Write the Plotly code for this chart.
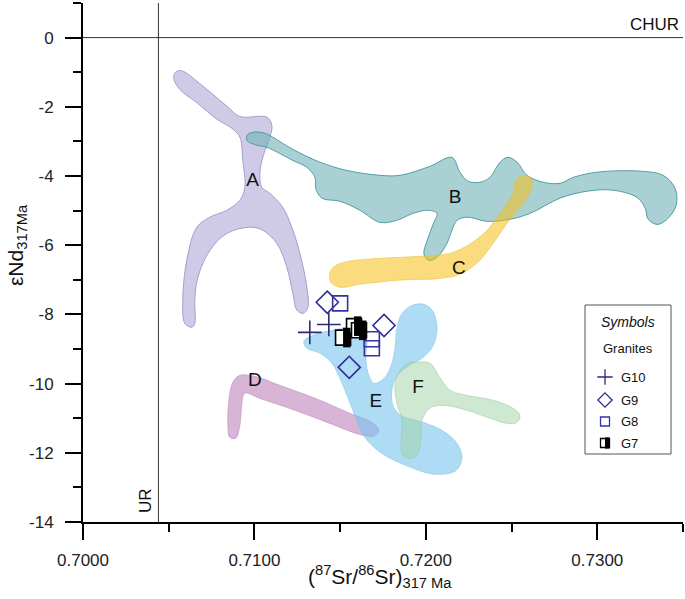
import plotly.graph_objects as go

# ---------------- data ----------------
x_ticks = [0.700, 0.710, 0.720, 0.730]
x_ticktext = ["0.7000", "0.7100", "0.7200", "0.7300"]
x_minor = [0.705, 0.715, 0.725, 0.735]
y_ticks = [-14, -12, -10, -8, -6, -4, -2, 0]
y_ticktext = ["-14", "-12", "-10", "-8", "-6", "-4", "-2", "0"]
y_minor = [-13, -11, -9, -7, -5, -3, -1, 1]

CHUR = 0.0
UR = 0.7044

# field outlines (Sr ratio, eNd)
A_x = [0.70535, 0.70570, 0.70699, 0.70839, 0.70915, 0.71072, 0.71102, 0.71090, 0.71049, 0.71032, 0.71043, 0.71090,
       0.71166, 0.71218, 0.71265, 0.71306, 0.71312, 0.71283, 0.71248, 0.71224, 0.71189, 0.71131, 0.71049, 0.70973,
       0.70839, 0.70740, 0.70670, 0.70652, 0.70652, 0.70635, 0.70594, 0.70582, 0.70605, 0.70664, 0.70740, 0.70839,
       0.70915, 0.70944, 0.70932, 0.70915, 0.70868, 0.70781, 0.70664, 0.70565, 0.70530]
A_y = [-1.03, -0.95, -1.40, -1.98, -2.28, -2.30, -2.54, -2.88, -3.46, -3.92, -4.33, -4.50, -4.91, -5.48, -6.23,
       -7.22, -7.80, -7.97, -7.88, -7.39, -6.64, -5.95, -5.57, -5.48, -5.66, -6.15, -6.93, -7.59, -8.26, -8.37,
       -8.26, -7.59, -6.44, -5.48, -5.19, -4.99, -4.70, -4.33, -3.55, -2.88, -2.62, -2.36, -1.88, -1.50, -1.20]

B_x = [0.70961, 0.71043, 0.71224, 0.71382, 0.71539, 0.71732, 0.71849, 0.72024, 0.72152, 0.72199, 0.72246, 0.72316,
       0.72374, 0.72433, 0.72479, 0.72532, 0.72590, 0.72684, 0.72783, 0.72859, 0.72999, 0.73250, 0.73384, 0.73454,
       0.73460, 0.73407, 0.73349, 0.73297, 0.73279, 0.73232, 0.73092, 0.72940, 0.72783, 0.72608, 0.72491, 0.72357,
       0.72240, 0.72182, 0.72152, 0.72123, 0.72071, 0.72018, 0.71989, 0.72012, 0.72047, 0.72065, 0.72012, 0.71925,
       0.71831, 0.71732, 0.71615, 0.71499, 0.71393, 0.71358, 0.71353, 0.71306, 0.71224, 0.71072, 0.71014, 0.70956]
B_y = [-2.80, -2.74, -3.23, -3.60, -3.84, -3.98, -3.98, -3.72, -3.46, -3.89, -4.15, -4.18, -4.04, -3.60, -3.46,
       -3.60, -3.98, -4.18, -4.21, -4.04, -3.89, -3.86, -3.98, -4.36, -4.85, -5.25, -5.40, -5.25, -4.93, -4.62,
       -4.41, -4.44, -4.64, -5.08, -5.25, -5.31, -5.19, -5.28, -5.57, -5.95, -6.32, -6.44, -6.26, -5.80, -5.34,
       -5.08, -4.99, -5.08, -5.28, -5.34, -4.99, -4.73, -4.64, -4.36, -4.04, -3.75, -3.55, -3.17, -3.11, -2.97]

C_x = [0.72579, 0.72619, 0.72608, 0.72549, 0.72473, 0.72392, 0.72304, 0.72199, 0.72082, 0.71849, 0.71615, 0.71499,
       0.71446, 0.71440, 0.71475, 0.71545, 0.71732, 0.71966, 0.72141, 0.72246, 0.72304, 0.72357, 0.72433, 0.72508,
       0.72526]
C_y = [-3.98, -4.12, -4.47, -4.91, -5.37, -5.95, -6.49, -6.84, -6.96, -7.01, -7.13, -7.22, -7.07, -6.78, -6.58,
       -6.47, -6.38, -6.32, -6.23, -6.00, -5.80, -5.57, -5.08, -4.50, -4.12]

D_x = [0.70856, 0.70845, 0.70851, 0.70874, 0.70915, 0.71002, 0.71148, 0.71382, 0.71557, 0.71685, 0.71726, 0.71697,
       0.71615, 0.71440, 0.71236, 0.71032, 0.70944, 0.70926, 0.70915, 0.70891]
D_y = [-11.55, -11.21, -10.48, -9.96, -9.76, -9.79, -10.05, -10.48, -10.86, -11.12, -11.35, -11.52, -11.47, -11.15,
       -10.77, -10.43, -10.28, -10.63, -11.21, -11.58]

E_x = [0.71288, 0.71353, 0.71458, 0.71557, 0.71627, 0.71656, 0.71650, 0.71662, 0.71697, 0.71755, 0.71796, 0.71820,
       0.71831, 0.71861, 0.71919, 0.71989, 0.72041, 0.72065, 0.72041, 0.71977, 0.71896, 0.71831, 0.71802, 0.71808,
       0.71855, 0.71966, 0.72094, 0.72182, 0.72211, 0.72176, 0.72053, 0.71896, 0.71744, 0.71639, 0.71586, 0.71545,
       0.71499, 0.71452, 0.71382, 0.71306]
E_y = [-8.78, -8.58, -8.46, -8.37, -8.46, -8.75, -9.18, -9.67, -9.99, -9.85, -9.50, -8.98, -8.40, -7.97, -7.74,
       -7.71, -7.91, -8.40, -8.92, -9.27, -9.50, -9.79, -10.19, -10.63, -10.92, -11.09, -11.35, -11.73, -12.16,
       -12.51, -12.62, -12.39, -12.02, -11.52, -10.92, -10.40, -9.85, -9.41, -9.12, -8.98]

F_x = [0.71948, 0.72024, 0.72082, 0.72141, 0.72240, 0.72392, 0.72508, 0.72549, 0.72532, 0.72473, 0.72374, 0.72240,
       0.72100, 0.72024, 0.71977, 0.71971, 0.71954, 0.71919, 0.71866, 0.71855, 0.71861, 0.71831, 0.71820, 0.71849,
       0.71896]
F_y = [-9.38, -9.41, -9.82, -10.19, -10.34, -10.48, -10.71, -10.92, -11.12, -11.15, -11.00, -10.77, -10.63, -10.71,
       -11.06, -11.55, -12.01, -12.16, -12.07, -11.64, -11.06, -10.57, -9.99, -9.62, -9.41]

field_names = ["A", "B", "C", "D", "E", "F"]
label_x = [0.70990, 0.72170, 0.72193, 0.71002, 0.71708, 0.71954]
label_y = [-4.16, -4.65, -6.70, -9.93, -10.54, -10.13]

# granite samples
G10_x = [0.71323, 0.71434]
G10_y = [-8.52, -8.29]
G9_x = [0.71425, 0.71756, 0.71553]
G9_y = [-7.65, -8.32, -9.53]
G8_x = [0.71500, 0.71685, 0.71685]
G8_y = [-7.68, -8.72, -8.98]
G7_x = [0.71517, 0.71581, 0.71610]
G7_y = [-8.67, -8.34, -8.46]

legend_names = ["G10", "G9", "G8", "G7"]

# ---------------- layout constants ----------------
W, H = 685, 599
ML, MR, MT, MB = 83, 2, 3, 77
X0, X1 = 0.700, 0.735
Y0, Y1 = -14, 1
PW = W - ML - MR
PH = H - MT - MB
FONT = "Liberation Sans, Arial, sans-serif"
SQ = 15  # square marker size (px)
half_shift = (SQ / 4) * (X1 - X0) / PW
C10, C9, C8 = "#2d2b78", "#2f2c96", "#3433a0"

fig = go.Figure()

fields = [
    (A_x, A_y, "rgba(175,168,213,0.6)", "rgba(150,140,200,0.8)"),
    (B_x, B_y, "rgba(112,178,183,0.6)", "rgba(70,150,158,0.9)"),
    (C_x, C_y, "rgba(245,190,20,0.55)", "rgba(235,190,60,0.5)"),
    (D_x, D_y, "rgba(190,130,187,0.6)", "rgba(180,130,180,0.5)"),
    (E_x, E_y, "rgba(120,197,238,0.6)", "rgba(120,190,230,0.5)"),
    (F_x, F_y, "rgba(159,209,165,0.5)", "rgba(150,200,160,0.5)"),
]
for fx, fy, fc, lc in fields:
    fig.add_trace(go.Scatter(x=fx + fx[:1], y=fy + fy[:1], mode="lines", fill="toself",
                             fillcolor=fc, line=dict(color=lc, width=1, shape="spline", smoothing=1.0),
                             hoverinfo="skip", showlegend=False))

fig.add_trace(go.Scatter(x=label_x, y=label_y, mode="text", text=field_names,
                         textfont=dict(family=FONT, size=19, color="#111"), showlegend=False))

# samples
fig.add_trace(go.Scatter(x=G10_x, y=G10_y, mode="markers", showlegend=False,
                         marker=dict(symbol="cross-thin-open", size=17, color=C10, line=dict(color=C10, width=1.6))))
fig.add_trace(go.Scatter(x=G9_x, y=G9_y, mode="markers", showlegend=False,
                         marker=dict(symbol="diamond-open", size=17, color=C9, line=dict(color=C9, width=1.6))))
fig.add_trace(go.Scatter(x=G8_x, y=G8_y, mode="markers", showlegend=False,
                         marker=dict(symbol="square-open", size=SQ, color=C8, line=dict(color=C8, width=1.6))))
fig.add_trace(go.Scatter(x=G7_x, y=G7_y, mode="markers", showlegend=False,
                         marker=dict(symbol="square", size=SQ, color="white", line=dict(color="black", width=1.6))))
fig.add_trace(go.Scatter(x=G7_x, y=G7_y, mode="markers", showlegend=False, xaxis="x2",
                         marker=dict(symbol="line-ns", size=SQ - 1, color="black",
                                     line=dict(color="black", width=SQ / 2))))

# legend (drawn in paper space through a hidden axis pair)
def px2paper_x(p):
    return (p - ML) / PW

def px2paper_y(p):
    return (H - MB - p) / PH

leg_sym_x = px2paper_x(605)
leg_txt_x = px2paper_x(619)
leg_rows = [px2paper_y(v) for v in (377, 400, 421.5, 443)]
LS = 9
fig.add_trace(go.Scatter(x=[leg_sym_x], y=[leg_rows[0]], xaxis="x3", yaxis="y3", mode="markers", showlegend=False,
                         marker=dict(symbol="cross-thin-open", size=11, color=C10, line=dict(color=C10, width=1.3))))
fig.add_trace(go.Scatter(x=[leg_sym_x], y=[leg_rows[1]], xaxis="x3", yaxis="y3", mode="markers", showlegend=False,
                         marker=dict(symbol="diamond-open", size=11, color=C9, line=dict(color=C9, width=1.3))))
fig.add_trace(go.Scatter(x=[leg_sym_x], y=[leg_rows[2]], xaxis="x3", yaxis="y3", mode="markers", showlegend=False,
                         marker=dict(symbol="square-open", size=LS, color=C8, line=dict(color=C8, width=1.3))))
fig.add_trace(go.Scatter(x=[leg_sym_x], y=[leg_rows[3]], xaxis="x3", yaxis="y3", mode="markers", showlegend=False,
                         marker=dict(symbol="square", size=LS, color="white", line=dict(color="black", width=1.3))))
fig.add_trace(go.Scatter(x=[leg_sym_x], y=[leg_rows[3]], xaxis="x4", yaxis="y3", mode="markers", showlegend=False,
                         marker=dict(symbol="line-ns", size=LS - 1, color="black",
                                     line=dict(color="black", width=LS / 2))))

def A(**kw):
    d = dict(showarrow=False, xanchor="center", yanchor="middle")
    d.update(kw)
    return d

ann = [
    A(xref="paper", yref="paper", x=px2paper_x(628), y=px2paper_y(322), text="<i>Symbols</i>",
      font=dict(family=FONT, size=14, color="#111")),
    A(xref="paper", yref="paper", x=px2paper_x(628), y=px2paper_y(348), text="Granites",
      font=dict(family=FONT, size=13, color="#111")),
]
for name, yy in zip(legend_names, leg_rows):
    ann.append(A(xref="paper", yref="paper", x=leg_txt_x, y=yy, text=name, xanchor="left",
                 font=dict(family=FONT, size=13, color="#111")))

ann += [
    A(xref="paper", yref="y", x=px2paper_x(681), y=CHUR, yanchor="bottom", xanchor="right", yshift=2,
      text="CHUR", font=dict(family=FONT, size=17, color="#111")),
    A(xref="x", yref="paper", x=UR, y=px2paper_y(500), xanchor="right", xshift=-2, textangle=-90,
      text="UR", font=dict(family=FONT, size=17, color="#111")),
    A(xref="paper", yref="paper", x=px2paper_x(380), y=px2paper_y(576),
      text="(<sup>87</sup>Sr/<sup>86</sup>Sr)<sub>317 Ma</sub>",
      font=dict(family=FONT, size=21, color="#111")),
    A(xref="paper", yref="paper", x=px2paper_x(17), y=px2paper_y(245), textangle=-90,
      text="εNd<sub>317Ma</sub>", font=dict(family=FONT, size=21, color="#111")),
]

shapes = [
    dict(type="line", xref="x", yref="y", x0=X0, x1=X1, y0=CHUR, y1=CHUR, line=dict(color="#333", width=1)),
    dict(type="line", xref="x", yref="y", x0=UR, x1=UR, y0=Y0, y1=Y1, line=dict(color="#333", width=1)),
    dict(type="rect", xref="paper", yref="paper", x0=px2paper_x(585), x1=px2paper_x(671),
         y0=px2paper_y(454), y1=px2paper_y(305), line=dict(color="#555", width=1), fillcolor="white", layer="below"),
]

tickfont = dict(family=FONT, size=17, color="#222")
fig.update_layout(
    width=W, height=H, margin=dict(l=ML, r=MR, t=MT, b=MB),
    plot_bgcolor="rgba(0,0,0,0)", paper_bgcolor="white", showlegend=False,
    xaxis=dict(range=[X0, X1], tickvals=x_ticks, ticktext=x_ticktext, ticks="outside", ticklen=16, tickwidth=2,
               tickcolor="black", showline=True, linewidth=2, linecolor="black", showgrid=False, zeroline=False,
               tickfont=tickfont, ticklabelstandoff=6,
               minor=dict(tickvals=x_minor, ticks="outside", ticklen=8, tickwidth=2, tickcolor="black", showgrid=False)),
    xaxis2=dict(range=[X0 - half_shift, X1 - half_shift], overlaying="x", visible=False),
    yaxis=dict(range=[Y0, Y1], tickvals=y_ticks, ticktext=y_ticktext, ticks="outside", ticklen=16, tickwidth=2,
               tickcolor="black", showline=True, linewidth=2, linecolor="black", showgrid=False, zeroline=False,
               tickfont=tickfont, ticklabelstandoff=8,
               minor=dict(tickvals=y_minor, ticks="outside", ticklen=8, tickwidth=2, tickcolor="black", showgrid=False)),
    xaxis3=dict(range=[0, 1], domain=[0, 1], anchor="y3", visible=False),
    xaxis4=dict(range=[0 - (LS / 4) / PW, 1 - (LS / 4) / PW], overlaying="x3", visible=False),
    yaxis3=dict(range=[0, 1], domain=[0, 1], anchor="x3", visible=False),
    annotations=ann, shapes=shapes,
)

fig.write_html("out.html", config={"displayModeBar": False},
               post_script="document.body.style.margin='0';")
